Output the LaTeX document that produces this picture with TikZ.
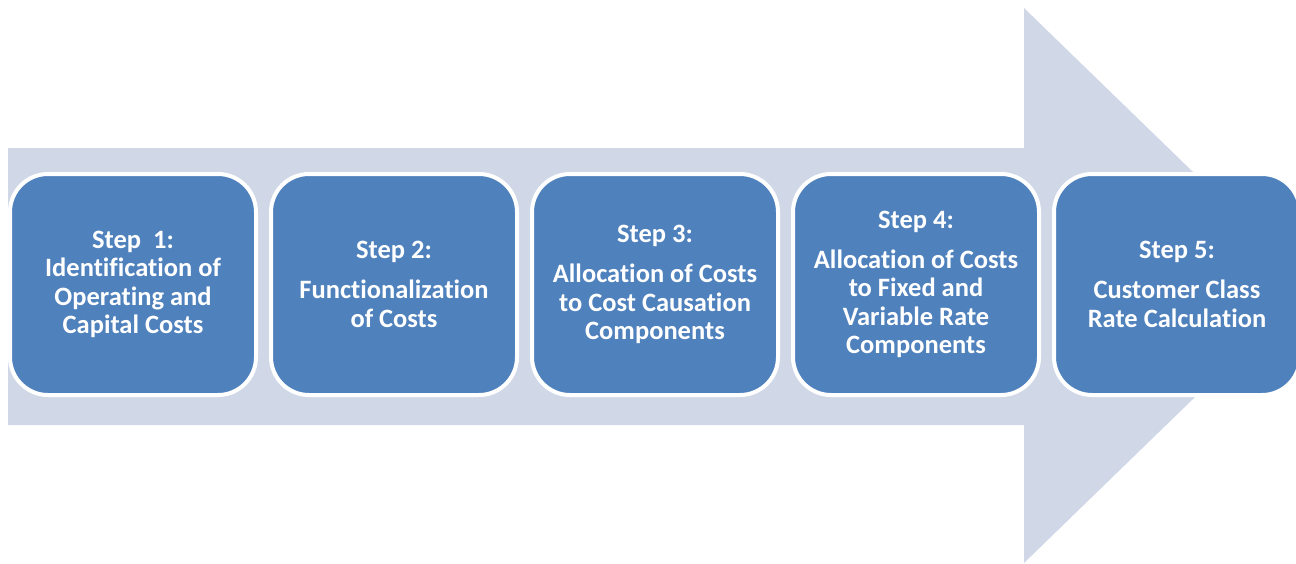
\documentclass[tikz,border=0pt]{standalone}
\usepackage{fontspec}
\setmainfont[Ligatures={NoCommon}]{Carlito}
\usepackage{tikz}
\usetikzlibrary{positioning}
\definecolor{StepBlue}{RGB}{79,129,189}
\definecolor{ArrowGrey}{RGB}{208,216,232}

\begin{document}
\begin{tikzpicture}[x=1pt, y=-1pt,
          stepbox/.style={rectangle, rounded corners=38pt, minimum width=246pt,
                          minimum height=221pt, align=center, fill=StepBlue,
                          draw=white, line width=4pt, text=white,
                          font=\fontsize{26.5}{28.5}\selectfont\bfseries},
          node distance=11pt
        ]
        \useasboundingbox (0,0) rectangle (1296,563);

        % big background arrow
        \fill[ArrowGrey] (8,148) -- (1024,148) -- (1024,8) -- (1310,285.5)
              -- (1024,563) -- (1024,425) -- (8,425) -- cycle;

        \node[stepbox] (step1) at (133,284.5)
              {Step\ \ 1:\\Identification of\\Operating and\\Capital Costs};
        \node[stepbox, right=of step1] (step2)
              {Step 2:\\[11.5pt]Functionalization\\of Costs};
        \node[stepbox, right=of step2] (step3)
              {Step 3:\\[11.5pt]Allocation of Costs\\to Cost Causation\\Components};
        \node[stepbox, right=of step3] (step4)
              {Step 4:\\[11.5pt]Allocation of Costs\\to Fixed and\\Variable Rate\\Components};
        \node[stepbox, right=of step4] (step5)
              {Step 5:\\[11.5pt]Customer Class\\Rate Calculation};
      \end{tikzpicture}
\end{document}
